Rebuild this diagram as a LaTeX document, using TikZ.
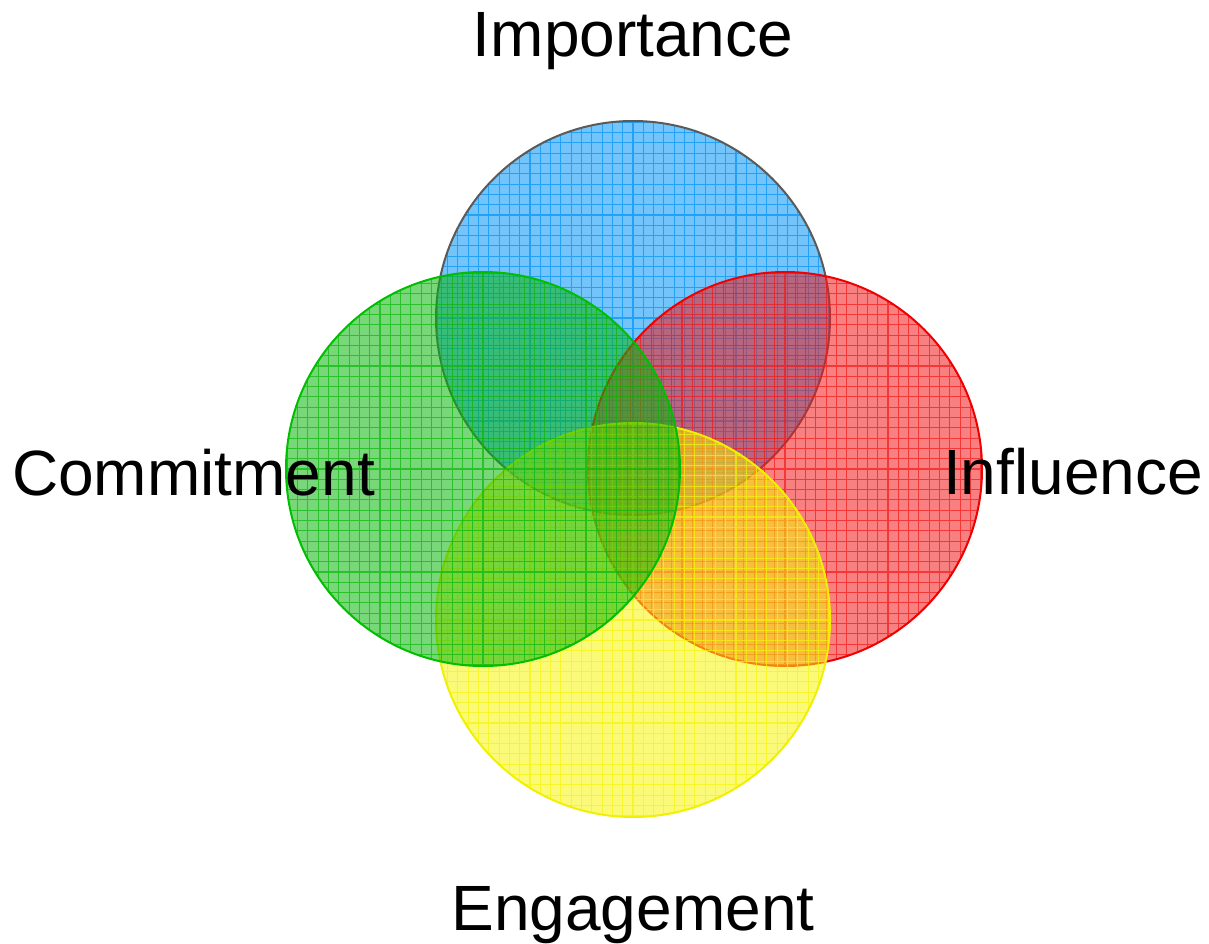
\documentclass[tikz,border=0pt]{standalone}
\usepackage{fontspec}
\setmainfont{Liberation Sans}

\definecolor{impbase}{RGB}{0,147,245}
\definecolor{impline}{RGB}{90,90,90}
\definecolor{combase}{RGB}{9,183,9}
\definecolor{comline}{RGB}{0,190,0}
\definecolor{infbase}{RGB}{243,24,24}
\definecolor{infline}{RGB}{240,0,0}
\definecolor{engbase}{RGB}{245,245,9}
\definecolor{engline}{RGB}{240,240,0}

\tikzset{
  caption/.style={inner sep=0pt,font=\fontsize{64}{77}\selectfont},
  ring/.style={line width=2pt},
}

\begin{document}
\begin{tikzpicture}[x=1pt,y=-1pt]
  \useasboundingbox (0,0) rectangle (1209,944);
  \coordinate (imp) at (633,318);
  \coordinate (com) at (483,469);
  \coordinate (inf) at (785,469);
  \coordinate (eng) at (633,620);
  % four see-through circles, hatched with a fine grid
  \foreach \c in {imp,inf,eng,com}{
    \fill[\c base,fill opacity=0.55] (\c) circle (197);
    \begin{scope}
      \clip (\c) circle (197);
      \draw[\c base,draw opacity=0.7,line width=1.1pt,step=10.3pt,shift={(\c)}] (-205,-205) grid (205,205);
    \end{scope}
    \draw[\c line,ring] (\c) circle (197);
  }
  \draw
    (633,57) node[caption,anchor=base] (importance) {Importance}
    (12,495) node[caption,anchor=base west] (commitment) {Commitment}
    (1203,494) node[caption,anchor=base east] (influence) {Influence}
    (633,930) node[caption,anchor=base] (engagement) {Engagement};
\end{tikzpicture}
\end{document}
